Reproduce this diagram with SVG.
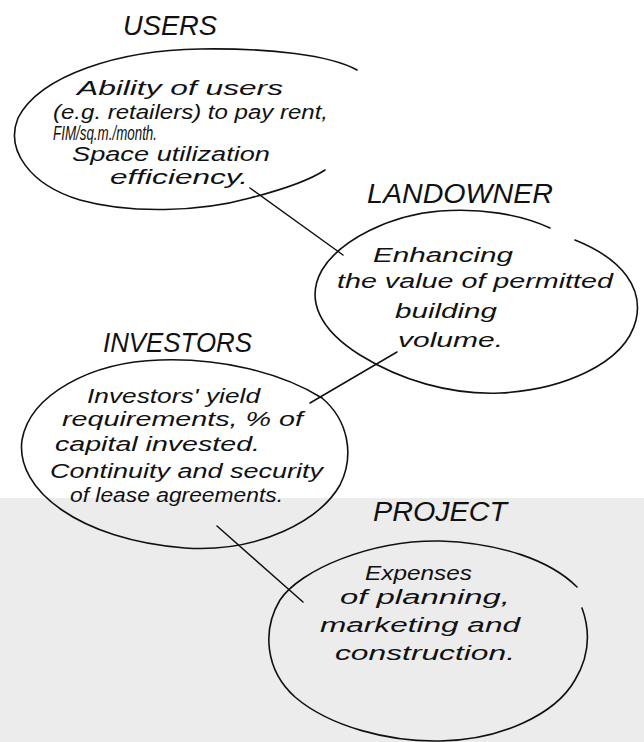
<svg xmlns="http://www.w3.org/2000/svg" width="644" height="742" viewBox="0 0 644 742">
  <style>
    .outline { fill: none; stroke: #111; stroke-width: 1.6; stroke-linecap: round; stroke-linejoin: round; }
    .link { fill: none; stroke: #111; stroke-width: 1.5; stroke-linecap: round; }
    .title { font-family: "Liberation Sans", "DejaVu Sans", sans-serif; font-style: italic; font-size: 27px; fill: #111; }
    .body { font-family: "Liberation Sans", "DejaVu Sans", sans-serif; font-style: italic; font-size: 20px; fill: #111; }
  </style>

  <!-- backgrounds -->
  <rect x="0" y="0" width="644" height="742" fill="#ffffff"/>
  <rect x="0" y="498" width="644" height="244" fill="#ececec"/>

  <!-- connectors -->
  <g id="connectors">
    <line class="link" x1="250" y1="188" x2="343" y2="255"/>
    <line class="link" x1="397" y1="352" x2="310" y2="403"/>
    <line class="link" x1="217" y1="526" x2="303" y2="602"/>
  </g>

  <!-- users -->
  <g id="users">
    <text class="title" x="123" y="35" textLength="94" lengthAdjust="spacingAndGlyphs">USERS</text>
    <path class="outline" d="M357,70 C330,55 270,48 200,49 C120,50 40,75 18,118 C5,150 30,185 80,200 C130,214 200,212 250,198 C285,189 310,180 325,170"/>
    <text class="body" x="77" y="95" textLength="206" lengthAdjust="spacingAndGlyphs">Ability of users</text>
    <text class="body" x="53" y="119" textLength="275" lengthAdjust="spacingAndGlyphs">(e.g. retailers) to pay rent,</text>
    <text class="body" x="53" y="140" font-size="13" textLength="104" lengthAdjust="spacingAndGlyphs">FIM/sq.m./month.</text>
    <text class="body" x="72" y="161" textLength="198" lengthAdjust="spacingAndGlyphs">Space utilization</text>
    <text class="body" x="110" y="184" textLength="138" lengthAdjust="spacingAndGlyphs">efficiency.</text>
  </g>

  <!-- landowner -->
  <g id="landowner">
    <text class="title" x="367" y="203" font-size="25" textLength="186" lengthAdjust="spacingAndGlyphs">LANDOWNER</text>
    <path class="outline" d="M550,228 C520,214 480,208 440,211 C390,215 340,240 322,270 C305,300 320,330 360,355 C400,380 450,395 500,393 C560,390 625,365 636,320 C643,290 625,260 575,240"/>
    <text class="body" x="373" y="262" textLength="140" lengthAdjust="spacingAndGlyphs">Enhancing</text>
    <text class="body" x="337" y="288" textLength="276" lengthAdjust="spacingAndGlyphs">the value of permitted</text>
    <text class="body" x="395" y="318" textLength="102" lengthAdjust="spacingAndGlyphs">building</text>
    <text class="body" x="398" y="347" textLength="105" lengthAdjust="spacingAndGlyphs">volume.</text>
  </g>

  <!-- investors -->
  <g id="investors">
    <text class="title" x="103" y="352" textLength="149" lengthAdjust="spacingAndGlyphs">INVESTORS</text>
    <path class="outline" d="M322,398 C280,372 220,358 160,360 C90,362 30,395 22,440 C15,490 80,540 185,548 C260,553 320,520 340,485 C355,455 348,420 322,398"/>
    <text class="body" x="87" y="403" textLength="173" lengthAdjust="spacingAndGlyphs">Investors' yield</text>
    <text class="body" x="62" y="426" textLength="241" lengthAdjust="spacingAndGlyphs">requirements, % of</text>
    <text class="body" x="55" y="451" textLength="205" lengthAdjust="spacingAndGlyphs">capital invested.</text>
    <text class="body" x="50" y="478" textLength="273" lengthAdjust="spacingAndGlyphs">Continuity and security</text>
    <text class="body" x="70" y="502" textLength="213" lengthAdjust="spacingAndGlyphs">of lease agreements.</text>
  </g>

  <!-- project -->
  <g id="project">
    <text class="title" x="373" y="521" textLength="134" lengthAdjust="spacingAndGlyphs">PROJECT</text>
    <path class="outline" d="M577,587 C550,560 500,543 440,541 C370,540 300,570 280,600 C262,630 265,670 295,697 C330,727 390,742 440,741 C500,740 555,715 575,680 C590,655 590,630 582,608"/>
    <text class="body" x="365" y="580" textLength="107" lengthAdjust="spacingAndGlyphs">Expenses</text>
    <text class="body" x="340" y="604" textLength="170" lengthAdjust="spacingAndGlyphs">of planning,</text>
    <text class="body" x="320" y="632" textLength="200" lengthAdjust="spacingAndGlyphs">marketing and</text>
    <text class="body" x="335" y="660" textLength="180" lengthAdjust="spacingAndGlyphs">construction.</text>
  </g>
</svg>
